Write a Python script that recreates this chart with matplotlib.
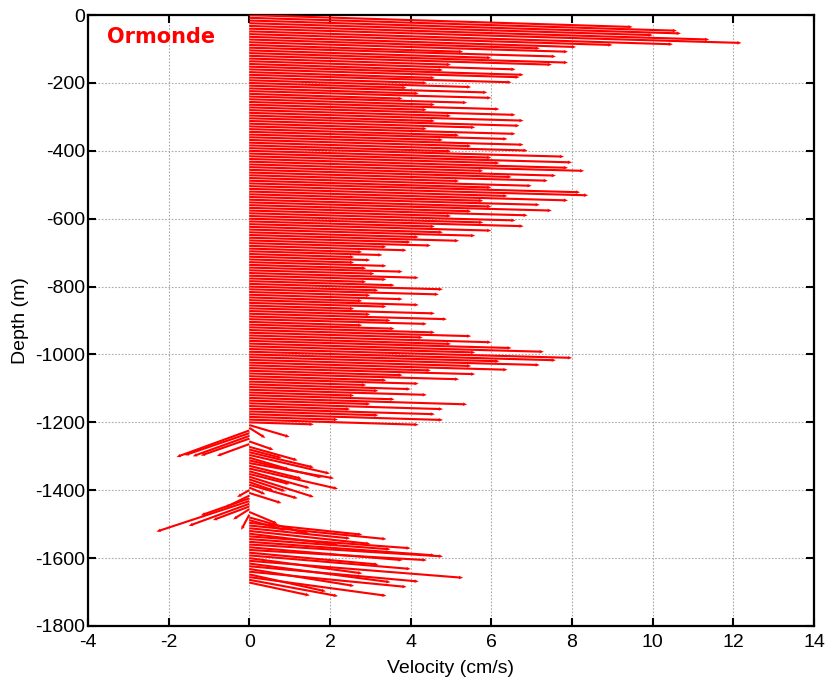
import matplotlib
matplotlib.use("Agg")
import matplotlib.pyplot as plt
import numpy as np

# stick origins (depth, m) every 8 m
depth = np.arange(0, -1680, -8)

# east component (cm/s)
u = [
    9.5, 10.6, 10.7, 10.0, 11.4, 12.2, 10.5, 9.0, 8.1, 7.2, 7.9, 5.3,
    7.6, 6.0, 7.9, 7.5, 5.0, 6.6, 4.8, 6.8, 6.7, 4.6, 6.5,
    4.4, 5.5, 3.9, 5.9, 4.2, 6.0, 3.8, 5.4, 4.6, 6.2, 4.4, 6.6, 5.0,
    6.8, 4.6, 6.7, 5.6, 4.4, 6.6, 5.2, 6.4, 4.8, 6.8, 5.5, 6.9, 5.0,
    7.8, 6.0, 8.0, 6.2, 7.9, 8.3, 5.8, 7.6, 6.5, 7.4, 5.2, 7.0, 6.0,
    8.2, 8.4, 6.4, 7.9, 5.8, 7.2, 6.0, 7.5, 5.5, 6.9, 5.0, 6.6, 5.8,
    6.8, 4.6, 6.0, 4.8, 5.6, 4.2, 5.2, 4.0, 4.5, 3.4, 3.9, 2.8, 3.3,
    2.6, 3.0, 2.6, 3.4, 2.9, 3.8, 3.1, 4.2, 3.4, 2.9, 3.6, 4.8, 3.2,
    4.7, 3.0, 3.8, 2.8, 4.2, 3.4, 2.6, 4.6, 3.0, 4.9, 3.5, 4.4, 2.8,
    3.6, 4.6, 5.5, 4.3, 6.0, 5.0, 6.5, 7.3, 5.6, 8.0, 7.6, 6.2, 7.2,
    5.5, 6.4, 4.5, 5.6, 3.8, 5.2, 3.4, 4.2, 2.9, 4.0, 3.2, 4.4, 2.6,
    3.6, 5.4, 3.0, 4.8, 2.5, 4.6, 3.2, 4.8, 2.2, 4.2, 1.6,
    1.0, 0.4, -1.8, -1.6, -1.4, -1.2, 0.6, -0.8, 1.2, 0.8, 1.6, 2.0,
    1.0, 1.8, 2.1, 1.3, 2.2, 1.5, 1.0, 1.6, 0.9, 0.6, 1.2, 0.4, -0.3,
    0.8, -0.6, -1.2, -2.3, -1.5, -0.9, -0.4, 0.7, -0.2, 1.5, 0.9, 2.8,
    3.4, 2.5, 3.0, 2.2, 4.0, 3.5, 4.6, 4.8, 3.8, 4.4, 3.2, 4.0, 2.8,
    5.3, 3.5, 4.2, 2.6, 3.9, 1.9, 3.4, 2.2, 1.5,
]

# north component (cm/s)
v = [
    -3.5, -3.8, -3.8, -3.5, -4.0, -4.2, -3.8, -3.2, -3.0, -2.6, -2.8, -2.0,
    -2.6, -2.2, -2.8, -2.6, -1.8, -2.4, -1.8, -2.4, -2.3, -1.7, -2.2,
    -1.6, -2.0, -1.4, -2.0, -1.5, -2.0, -1.4, -1.8, -1.6, -2.1, -1.5, -2.2, -1.7,
    -2.3, -1.6, -2.2, -1.9, -1.5, -2.2, -1.8, -2.1, -1.6, -2.2, -1.8, -2.3, -1.7,
    -2.5, -2.0, -2.6, -2.0, -2.6, -2.7, -1.9, -2.5, -2.1, -2.4, -1.7, -2.3, -2.0,
    -2.6, -2.7, -2.1, -2.6, -1.9, -2.3, -2.0, -2.4, -1.8, -2.2, -1.6, -2.1, -1.9,
    -2.2, -1.5, -1.9, -1.6, -1.8, -1.4, -1.7, -1.3, -1.5, -1.1, -1.3, -1.0, -1.1,
    -0.9, -1.0, -0.9, -1.1, -1.0, -1.2, -1.0, -1.4, -1.1, -1.0, -1.2, -1.6, -1.1,
    -1.5, -1.0, -1.3, -1.0, -1.4, -1.1, -0.9, -1.5, -1.0, -1.6, -1.2, -1.4, -1.0,
    -1.2, -1.5, -1.8, -1.4, -2.0, -1.7, -2.1, -2.4, -1.8, -2.6, -2.5, -2.0, -2.3,
    -1.8, -2.1, -1.5, -1.8, -1.3, -1.7, -1.2, -1.4, -1.0, -1.4, -1.1, -1.5, -0.9,
    -1.2, -1.9, -1.0, -1.7, -0.9, -1.6, -1.1, -1.7, -0.8, -1.5, -0.6,
    -3.5, -3.0, -7.8, -6.5, -6.0, -5.0, -2.5, -3.5, -4.0, -2.5, -4.5, -5.5,
    -3.5, -5.0, -4.5, -3.8, -6.0, -5.0, -3.0, -6.0, -3.5, -2.5, -4.0, -2.0, -2.0,
    -3.0, -3.5, -5.0, -9.0, -6.5, -4.0, -3.0, -3.5, -4.5, -5.0, -3.0, -3.5,
    -4.0, -3.0, -3.8, -3.2, -3.5, -3.0, -4.0, -3.5, -3.8, -3.0, -3.5, -4.0, -4.5,
    -5.0, -5.5, -4.5, -5.0, -4.5, -5.0, -5.5, -4.8, -3.8,
]

v_scale = 10  # metres of depth per cm/s on the plot

plt.rcParams['font.family'] = ['Liberation Sans', 'DejaVu Sans']
plt.rcParams['axes.unicode_minus'] = False

fig = plt.figure(figsize=(8.29, 6.86), dpi=100)
ax = fig.add_axes([0.106, 0.0875, 0.876, 0.8905])

ax.quiver(np.zeros(len(depth)), depth, u, np.array(v) * v_scale,
          angles='xy', scale_units='xy', scale=1, color='red',
          width=0.0029, headwidth=1.7, headlength=2.0, headaxislength=1.9,
          zorder=3)

ax.set_xlim(-4, 14)
ax.set_ylim(-1800, 0)
ax.set_xticks(np.arange(-4, 15, 2))
ax.set_yticks(np.arange(-1800, 1, 200))
ax.grid(True, color='#aaaaaa', linestyle=(0, (1.5, 1.5)), linewidth=0.8)
ax.tick_params(direction='in', length=6, width=1.5, labelsize=14,
               top=True, right=True, pad=2)
ax.tick_params(axis='x', pad=6)
for s in ax.spines.values():
    s.set_linewidth(1.6)

ax.set_xlabel('Velocity (cm/s)', fontsize=14, labelpad=6)
ax.set_ylabel('Depth (m)', fontsize=14, labelpad=4)

ax.text(0.027, 0.964, 'Ormonde', transform=ax.transAxes, color='red',
        fontsize=15, fontweight='bold', family='DejaVu Sans',
        ha='left', va='center')

fig.savefig('out.png', dpi=100)
